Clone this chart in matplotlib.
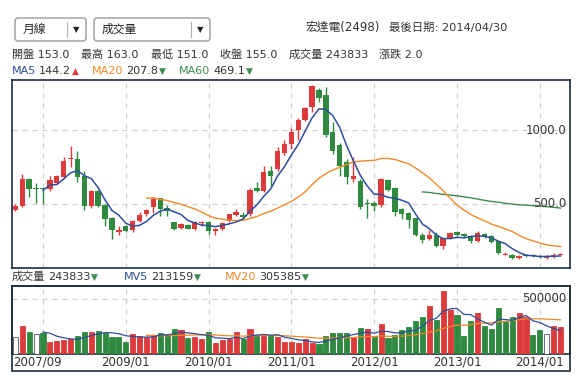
import numpy as np
import pandas as pd
import matplotlib
matplotlib.use('Agg')
import matplotlib.pyplot as plt
import matplotlib.transforms as mtransforms
from matplotlib.patches import FancyBboxPatch, Rectangle

plt.rcParams['font.family'] = ['DejaVu Sans', 'Noto Sans CJK TC']

# 月線資料 2007/09 ~ 2014/04 (宏達電 2498)
months = pd.period_range('2007-09', '2014-04', freq='M')
opens = [460, 484, 668, 603, 605, 599, 640, 681, 801, 805,
         691, 484, 587, 489, 402, 310, 347, 319, 380, 427,
         475, 541, 468, 374, 335, 358, 328, 368, 374, 312,
         328, 381, 420, 420, 427, 608, 587, 723, 736, 847,
         908, 1000, 1069, 1160, 1275, 1241, 989, 897, 782, 667,
         656, 507, 507, 489, 663, 608, 461, 438, 402, 289,
         259, 289, 209, 266, 305, 296, 282, 243, 296, 278,
         243, 152, 152, 129, 152, 150, 145, 128, 136, 153]
highs = [495, 702, 677, 640, 610, 691, 693, 821, 890, 858,
         725, 592, 590, 495, 411, 347, 354, 392, 443, 461,
         544, 541, 491, 375, 370, 360, 381, 385, 381, 335,
         377, 427, 461, 443, 604, 649, 760, 760, 886, 931,
         1012, 1080, 1160, 1310, 1287, 1291, 1058, 910, 805, 817,
         668, 530, 519, 677, 668, 612, 473, 443, 404, 301,
         324, 305, 270, 305, 312, 301, 290, 312, 301, 290,
         248, 168, 159, 152, 159, 159, 150, 150, 163, 163]
lows = [452, 480, 548, 502, 495, 588, 635, 676, 748, 645,
        455, 470, 475, 347, 260, 289, 305, 305, 374, 415,
        438, 415, 415, 320, 328, 325, 324, 347, 296, 285,
        324, 374, 415, 397, 415, 580, 580, 622, 725, 833,
        875, 931, 1060, 1125, 1190, 954, 840, 690, 633, 650,
        461, 404, 450, 480, 585, 415, 397, 335, 278, 232,
        250, 205, 191, 262, 278, 270, 232, 240, 270, 230,
        160, 148, 122, 124, 140, 138, 132, 126, 133, 151]
closes = [485, 668, 603, 603, 600, 661, 686, 792, 812, 679,
          484, 587, 484, 393, 324, 320, 317, 383, 420, 454,
          530, 461, 450, 330, 363, 328, 374, 378, 312, 328,
          370, 427, 443, 412, 592, 587, 718, 691, 856, 908,
          989, 1069, 1154, 1300, 1218, 966, 858, 759, 679, 690,
          477, 496, 484, 668, 594, 445, 427, 392, 289, 255,
          289, 209, 266, 301, 289, 278, 243, 301, 278, 237,
          165, 160, 133, 145, 147, 142, 136, 136, 153, 155]
volumes = [158000, 258000, 203000, 182000, 194000, 109000, 121000, 130000, 133000, 167000,
           203000, 203000, 212000, 188000, 158000, 158000, 112000, 182000, 164000, 152000,
           173000, 191000, 182000, 227000, 218000, 142000, 158000, 133000, 200000, 103000,
           127000, 133000, 200000, 133000, 227000, 167000, 164000, 164000, 158000, 112000,
           112000, 97000, 133000, 97000, 88000, 167000, 188000, 188000, 188000, 152000,
           233000, 224000, 152000, 270000, 145000, 170000, 218000, 245000, 300000, 333000,
           433000, 309000, 570000, 403000, 358000, 161000, 297000, 370000, 258000, 227000,
           415000, 297000, 333000, 373000, 336000, 170000, 215000, 185000, 251000, 243833]

date_labels = ['2007/09', '2009/01', '2010/01', '2011/01', '2012/01', '2013/01', '2014/01']

RED = '#dd3b3b'
GREEN = '#2f8a40'
BLUE = '#2d4e9c'
ORANGE = '#ef8a2a'
MA60C = '#3f8c4e'
DARK = '#333333'
BORDER = '#1e2d3b'
GRID = '#d0d0d0'

o = np.array(opens, float)
h = np.array(highs, float)
l = np.array(lows, float)
c = np.array(closes, float)
v = np.array(volumes, float)
x = np.arange(len(months))

s_close = pd.Series(c)
ma5 = s_close.rolling(5).mean()
ma20 = s_close.rolling(20).mean()
ma60 = s_close.rolling(60).mean()
s_vol = pd.Series(v)
mv5 = s_vol.rolling(5).mean()
mv20 = s_vol.rolling(20).mean()

candle_col = [RED if cc > oo else GREEN for oo, cc in zip(o, c)]
diff = s_close.diff()
vol_col = []
for d in diff:
    if pd.isna(d) or d == 0:
        vol_col.append('white')
    elif d > 0:
        vol_col.append(RED)
    else:
        vol_col.append(GREEN)

jan_idx = [i for i, m in enumerate(months) if m.month == 1]
label_idx = [0] + [i for i in jan_idx if months[i].year >= 2009]

W, H = 581, 381
fig = plt.figure(figsize=(W / 100, H / 100), dpi=100)


def px_axes(x0, y0, x1, y1):
    return fig.add_axes([x0 / W, 1 - y1 / H, (x1 - x0) / W, (y1 - y0) / H])


xlim = (-0.49, 80.38)

# K線圖
ax = px_axes(12, 80, 570, 268)
ax.set_xlim(*xlim)
ax.set_ylim(62.5, 1342)
body_bottom = np.minimum(o, c)
body_h = np.maximum(np.abs(c - o), 4)
ax.vlines(x, l, h, colors=candle_col, lw=1.0, zorder=2)
ax.bar(x, body_h, bottom=body_bottom, width=0.78, color=candle_col, linewidth=0, zorder=3)
ax.plot(x, ma60, color=MA60C, lw=1.0, zorder=4)
ax.plot(x, ma20, color=ORANGE, lw=1.0, zorder=4)
ax.plot(x, ma5, color=BLUE, lw=1.1, zorder=5)
ax.set_xticks(jan_idx)
ax.set_yticks([500, 1000])
ax.tick_params(length=0, labelbottom=False, labelleft=False)
ax.grid(True, ls=(0, (4, 4)), color=GRID, lw=0.9, zorder=0)
ax.set_axisbelow(True)
for sp in ax.spines.values():
    sp.set_color(BORDER)
    sp.set_linewidth(1.2)
tr = mtransforms.blended_transform_factory(ax.transAxes, ax.transData)
for val in [500, 1000]:
    ax.text(0.993, val, f'{val:.1f}', transform=tr, ha='right', va='center',
            fontsize=8.5, color=DARK, zorder=6)

# 成交量
ax2 = px_axes(12, 286, 570, 354)
ax2.set_xlim(*xlim)
ax2.set_ylim(0, 618000)
ax2.bar(x, v, width=0.74, color=vol_col, edgecolor=[('#555555' if cc == 'white' else cc) for cc in vol_col],
        linewidth=0.6, zorder=3)
ax2.plot(x, mv20, color=ORANGE, lw=0.9, zorder=4)
ax2.plot(x, mv5, color=BLUE, lw=0.9, zorder=5)
ax2.set_xticks(jan_idx)
ax2.set_yticks([500000])
ax2.tick_params(length=0, labelbottom=False, labelleft=False)
ax2.grid(True, ls=(0, (4, 4)), color=GRID, lw=0.9, zorder=0)
ax2.set_axisbelow(True)
for sp in ax2.spines.values():
    sp.set_color(BORDER)
    sp.set_linewidth(1.2)
tr2 = mtransforms.blended_transform_factory(ax2.transAxes, ax2.transData)
ax2.text(0.993, 500000, '500000', transform=tr2, ha='right', va='center',
         fontsize=8.5, color=DARK, zorder=6)
trd = mtransforms.blended_transform_factory(ax2.transData, ax2.transAxes)
for i, lab in zip(label_idx, date_labels):
    if i == 0:
        ax2.text(-0.3, -0.12, lab, transform=trd, ha='left', va='center', fontsize=8.5, color=DARK)
    else:
        ax2.text(i, -0.12, lab, transform=trd, ha='center', va='center', fontsize=8.5, color=DARK)

# 上方文字區
ov = fig.add_axes([0, 0, 1, 1])
ov.set_xlim(0, W)
ov.set_ylim(H, 0)
ov.axis('off')
ov.patch.set_visible(False)

ov.add_patch(Rectangle((12, 286), 558, 85, fill=False, edgecolor=BORDER, lw=1.2))

for bx0, bx1, sep, lab in [(15, 86, 67, '月線'), (94, 210, 191, '成交量')]:
    ov.add_patch(FancyBboxPatch((bx0, 18), bx1 - bx0, 23, boxstyle='round,pad=0,rounding_size=3',
                                fill=False, edgecolor='#9a9a9a', lw=1.0))
    ov.plot([sep, sep], [22, 37], color='#b0b0b0', lw=0.8)
    ov.text(bx0 + 8, 29.5, lab, fontsize=8.5, color='#222222', va='center', ha='left')
    ov.text((sep + bx1) / 2, 29.5, '▼', fontsize=6, color='#222222', va='center', ha='center')

ov.text(306, 27, '宏達電(2498)', fontsize=8.5, color=DARK, va='center', ha='left')
ov.text(389, 27, '最後日期: 2014/04/30', fontsize=8.2, color=DARK, va='center', ha='left')

info = [(12, '開盤 153.0'), (81, '最高 163.0'), (151, '最低 151.0'), (220, '收盤 155.0'),
        (289, '成交量 243833'), (379, '漲跌 2.0')]
for xx, s in info:
    ov.text(xx, 54.5, s, fontsize=8, color=DARK, va='center', ha='left')

renderer = fig.canvas.get_renderer()


def seq_text(x0, y0, parts):
    xx = x0
    for s, col, size, gap in parts:
        t = ov.text(xx, y0, s, fontsize=size, color=col, va='center', ha='left')
        xx += t.get_window_extent(renderer).width + gap


seq_text(12, 71.5, [('MA5', BLUE, 8, 3), ('144.2', DARK, 8, 0.5), ('▲', RED, 6.5, 0)])
seq_text(92, 71.5, [('MA20', ORANGE, 8, 3), ('207.8', DARK, 8, 0.5), ('▼', MA60C, 6.5, 0)])
seq_text(179, 71.5, [('MA60', MA60C, 8, 3), ('469.1', DARK, 8, 0.5), ('▼', MA60C, 6.5, 0)])

seq_text(12, 277, [('成交量', DARK, 8, 3), ('243833', DARK, 8, 0.5), ('▼', MA60C, 6.5, 0)])
seq_text(124, 277, [('MV5', BLUE, 8, 3), ('213159', DARK, 8, 0.5), ('▼', MA60C, 6.5, 0)])
seq_text(225, 277, [('MV20', ORANGE, 8, 3), ('305385', DARK, 8, 0.5), ('▼', MA60C, 6.5, 0)])

fig.savefig('out.png', dpi=100)
